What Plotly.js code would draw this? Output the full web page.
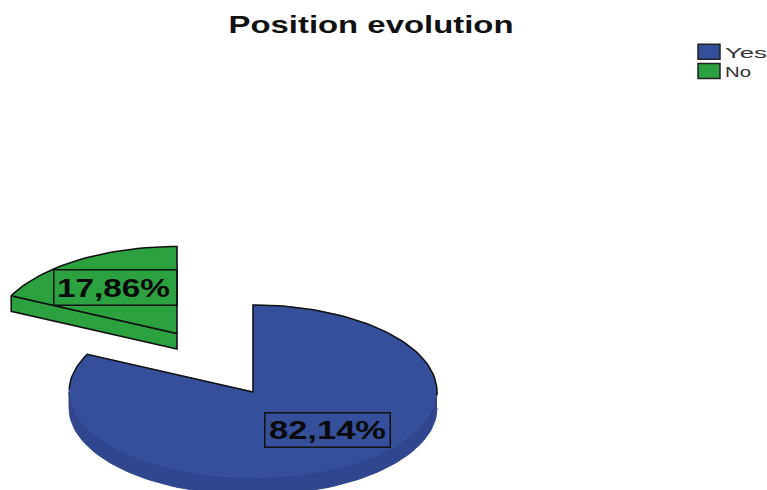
<!DOCTYPE html>
<html>
<head>
<meta charset="utf-8">
<script src="https://cdn.plot.ly/plotly-3.0.1.min.js"></script>
<style>html,body{margin:0;padding:0;background:#fff;overflow:hidden}</style>
</head>
<body>
<div id="chart" style="width:767px;height:490px"></div>
<script>
// Chart content
const categories = ["Yes", "No"];
const percentages = [82.14, 17.86];
const sliceColors = ["#354f9a", "#2ba13f"];
const chartTitle = "Position evolution";

// Tilted-disc geometry, in axis units (the axes run 1:1 with the canvas)
const RX = 184, RY = 87;
const discs = [
  { cx: 253, cy: 392, depth: 16 },
  { cx: 177, cy: 333.5, depth: 15.5 }
];
const rad = d => d * Math.PI / 180;
const rim = (d, deg) => [d.cx + RX * Math.sin(rad(deg)), d.cy - RY * Math.cos(rad(deg))];

// Sample an arc, clockwise from 12 o'clock, optionally dropped by the disc depth
function arc(d, from, to, drop) {
  const pts = [], n = Math.max(2, Math.ceil(Math.abs(to - from) / 2));
  for (let i = 0; i <= n; i++) {
    const p = rim(d, from + (to - from) * i / n);
    pts.push([p[0], p[1] + (drop || 0)]);
  }
  return pts;
}
const xs = pts => pts.map(p => p[0]);
const ys = pts => pts.map(p => p[1]);

function poly(pts, fill, lineColor, lineWidth, extra) {
  return Object.assign({
    type: "scatter", mode: "lines", x: xs(pts), y: ys(pts),
    fill: "toself", fillcolor: fill, hoverinfo: "skip", showlegend: false,
    line: { color: lineColor, width: lineWidth }
  }, extra || {});
}
function stroke(pts, color, width) {
  return { type: "scatter", mode: "lines", x: xs(pts), y: ys(pts), hoverinfo: "skip",
           showlegend: false, line: { color: color, width: width } };
}

// Slice angles follow from the percentages
const yesEnd = percentages[0] / 100 * 360;
const yes = discs[0], no = discs[1];
const yesApex = [yes.cx, yes.cy], noApex = [no.cx, no.cy];
const noStart = rim(no, yesEnd);

const yesTop = [yesApex].concat(arc(yes, 0, yesEnd), [yesApex]);
const yesSide = arc(yes, 90, 270).concat(arc(yes, 270, 90, yes.depth));
const noTop = [noApex].concat(arc(no, yesEnd, 360), [noApex]);
const noFront = [noStart, noApex, [no.cx, no.cy + no.depth], [noStart[0], noStart[1] + no.depth], noStart];
// The dark outline runs over the far rim and the cut; the near rim stays soft
const yesOutline = arc(yes, 272, yesEnd).concat([yesApex], arc(yes, 0, 92));

const traces = [
  poly(yesSide, "#30478f", "#30478f", 1),
  poly(yesTop, sliceColors[0], sliceColors[0], 0.5, { name: categories[0], showlegend: true }),
  stroke(arc(yes, 92, 272), "#2c4189", 1),
  stroke(yesOutline, "#111", 1.5),
  poly(noFront, sliceColors[1], "#111", 1.6),
  poly(noTop, sliceColors[1], "#111", 1.6, { name: categories[1], showlegend: true })
];

const label = v => v.toFixed(2).replace(".", ",") + "%";

const layout = {
  width: 767, height: 490,
  margin: { l: 0, r: 0, t: 0, b: 0 },
  paper_bgcolor: "#fff", plot_bgcolor: "#fff",
  title: {
    text: chartTitle, x: 371 / 767, xanchor: "center", y: 1 - 25 / 490, yanchor: "middle",
    font: { family: "Liberation Sans, Arial, sans-serif", size: 24, color: "#111", weight: 700 }
  },
  xaxis: { range: [0, 767], visible: false, fixedrange: true },
  yaxis: { range: [490, 0], visible: false, fixedrange: true },
  legend: {
    x: 685 / 767, xanchor: "left", y: 1 - 38 / 490, yanchor: "top",
    font: { family: "Liberation Sans, Arial, sans-serif", size: 12.5, color: "#333" },
    bgcolor: "rgba(0,0,0,0)", itemwidth: 30, tracegroupgap: 0, itemclick: false, itemdoubleclick: false
  },
  annotations: [
    { x: 327, y: 429.5, text: label(percentages[0]), width: 122, height: 31 },
    { x: 115, y: 287, text: label(percentages[1]), width: 120, height: 32 }
  ].map(a => Object.assign(a, {
    xref: "x", yref: "y", showarrow: false, xanchor: "center", yanchor: "middle",
    align: "center", valign: "middle", borderwidth: 1.5, bordercolor: "#111", borderpad: 1,
    font: { family: "Liberation Sans, Arial, sans-serif", size: 25, color: "#0a0a0a", weight: 600 }
  }))
};

Plotly.newPlot("chart", traces, layout, { displayModeBar: false, staticPlot: true }).then(gd => {
  // Wide, horizontally stretched lettering
  const stretch = (node, len) => {
    node.setAttribute("textLength", len);
    node.setAttribute("lengthAdjust", "spacingAndGlyphs");
  };
  stretch(gd.querySelector(".gtitle"), 285);
  const notes = gd.querySelectorAll(".annotation-text");
  stretch(notes[0], 117);
  stretch(notes[1], 113);
  // Nudge the second label slightly off the centre of its box
  notes[1].setAttribute("x", parseFloat(notes[1].getAttribute("x")) - 2);
  const names = gd.querySelectorAll(".legendtext");
  names.forEach(n => { n.style.fontSize = "15px"; });
  stretch(names[0], 42);
  stretch(names[1], 26);
  // Let the enlarged legend names run past the measured legend box
  gd.querySelectorAll(".legend .scrollbox").forEach(b => b.removeAttribute("clip-path"));
  gd.querySelectorAll(".legend").forEach(b => b.removeAttribute("clip-path"));
  // Chunky outlined legend keys
  gd.querySelectorAll(".legendfill path").forEach(p => {
    p.setAttribute("d", "M13,-8.5h22v15h-22z");
    p.style.stroke = "#222";
    p.style.strokeWidth = "1.5px";
  });
  gd.querySelectorAll(".legendlines path").forEach(p => p.style.display = "none");
});
</script>
</body>
</html>
